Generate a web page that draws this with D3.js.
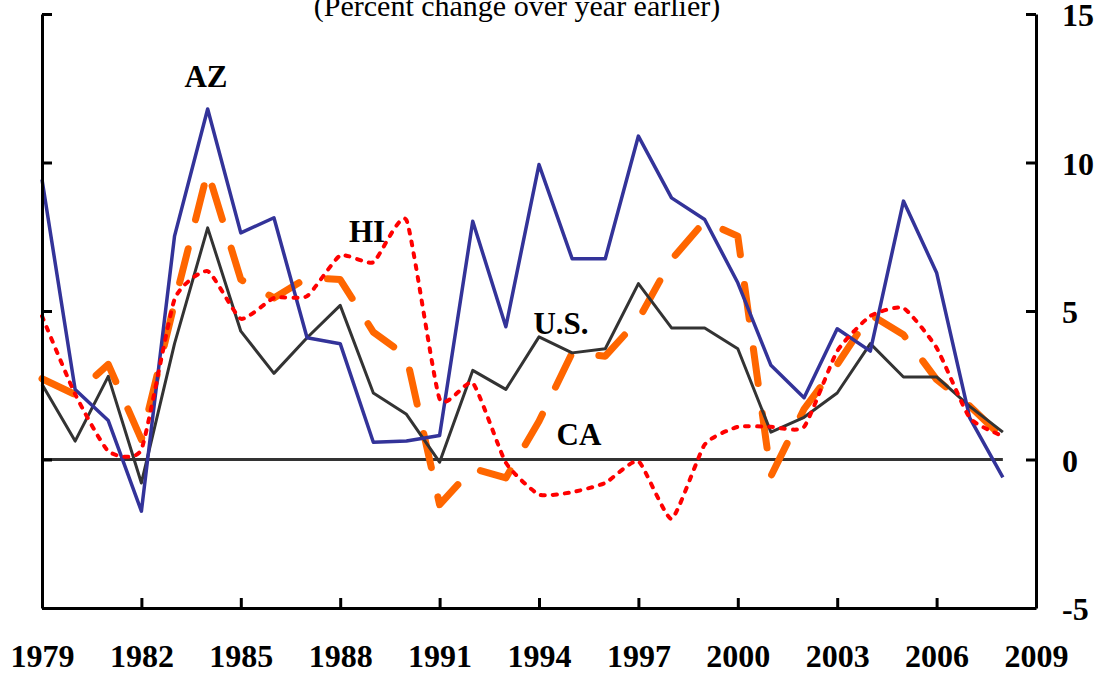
<!doctype html>
<html lang="en">
<head>
    <meta charset="utf-8">
    <title>Percent change over year earlier</title>
    <style>
        body {
            margin: 0;
            background-color: white;
        }

        svg text {
            font-family: 'Liberation Serif', 'Times New Roman', serif;
            fill: #000;
        }

        svg .tick text {
            font-size: 32px;
            font-weight: 700;
        }

        .series-label {
            font-size: 31px;
            font-weight: bold;
        }

        .title {
            font-size: 30px;
        }
    </style>
</head>
<body>
    <svg id="chart"></svg>
    <script src="https://d3js.org/d3.v7.min.js"></script>
    <script>
        var years = [1979, 1980, 1981, 1982, 1983, 1984, 1985, 1986, 1987, 1988,
            1989, 1990, 1991, 1992, 1993, 1994, 1995, 1996, 1997, 1998,
            1999, 2000, 2001, 2002, 2003, 2004, 2005, 2006, 2007, 2008];

        var azValues = [9.43, 2.36, 1.31, -1.74, 7.52, 11.8, 7.63, 8.14, 4.1, 3.9,
            0.58, 0.62, 0.81, 8.02, 4.47, 9.93, 6.76, 6.76, 10.89, 8.81,
            8.08, 5.95, 3.17, 2.08, 4.4, 3.65, 8.7, 6.29, 1.4, -0.6];

        var usValues = [2.53, 0.62, 2.8, -0.79, 3.9, 7.8, 4.32, 2.9, 4.1, 5.19,
            2.24, 1.52, -0.09, 3.0, 2.36, 4.13, 3.59, 3.73, 5.92, 4.43,
            4.43, 3.73, 0.92, 1.42, 2.24, 3.9, 2.78, 2.78, 1.79, 0.92];

        var caValues = [2.72, 2.19, 3.2, 0.67, 5.27, 9.7, 6.06, 5.44, 6.12, 6.06,
            4.29, 3.48, -1.52, -0.3, -0.62, 1.29, 3.59, 3.48, 4.71, 6.73,
            8.02, 7.52, -0.56, 1.7, 3.2, 4.88, 4.2, 2.69, 1.8, 0.73];

        var hiValues = [4.83, 2.2, 0.28, 0.34, 5.39, 6.34, 4.74, 5.44, 5.5, 6.87,
            6.64, 8.06, 2.04, 2.58, -0.11, -1.18, -1.1, -0.79, -0.06, -2.0,
            0.5, 1.1, 1.1, 1.1, 3.65, 4.83, 5.1, 3.76, 1.4, 0.79];

        var xTicks = [1979, 1982, 1985, 1988, 1991, 1994, 1997, 2000, 2003, 2006, 2009];
        var yTicks = [-5, 0, 5, 10, 15];

        var svg = d3.select("#chart")
            .attr("width", 1102)
            .attr("height", 673);

        var x = d3.scaleLinear().domain([1979, 2009]).range([42, 1036]);
        var y = d3.scaleLinear().domain([-5, 15]).range([608, 14]);

        // zero reference line runs over the years that have data
        svg.append("line")
            .attr("x1", x(years[0]))
            .attr("x2", x(years[years.length - 1]))
            .attr("y1", y(0))
            .attr("y2", y(0))
            .attr("stroke", "#333333")
            .attr("stroke-width", 3);

        function drawSeries(values, color, width, dash, curve) {
            var line = d3.line()
                .x(function (d, i) { return x(years[i]) })
                .y(function (d) { return y(d) })
                .curve(curve);

            svg.append("path")
                .datum(values)
                .attr("fill", "none")
                .attr("stroke", color)
                .attr("stroke-width", width)
                .attr("stroke-linejoin", "round")
                .attr("stroke-linecap", dash ? "round" : "butt")
                .attr("stroke-dasharray", dash)
                .attr("d", line);
        }

        drawSeries(caValues, "#FF6600", 7, "35,30", d3.curveLinear);
        drawSeries(usValues, "#333333", 3, null, d3.curveLinear);
        drawSeries(azValues, "#333399", 3.5, null, d3.curveLinear);
        drawSeries(hiValues, "#FF0000", 4, "4,8", d3.curveCardinal.tension(0.5));

        // axes, ticks pointing inward
        var left = svg.append("g")
            .attr("transform", "translate(" + x(1979) + ",0)")
            .call(d3.axisLeft(y).tickValues(yTicks).tickSize(-10).tickSizeOuter(0).tickFormat(""));

        var right = svg.append("g")
            .attr("transform", "translate(" + x(2009) + ",0)")
            .call(d3.axisRight(y).tickValues(yTicks).tickSize(-10).tickSizeOuter(0).tickPadding(26)
                .tickFormat(function (d) { return String(d) }));

        var bottom = svg.append("g")
            .attr("transform", "translate(0," + y(-5) + ")")
            .call(d3.axisBottom(x).tickValues(xTicks).tickSize(-10).tickSizeOuter(0).tickPadding(36)
                .tickFormat(function (d) { return String(d) }));

        [left, right, bottom].forEach(function (g) {
            g.attr("font-size", null).attr("font-family", null);
            g.select(".domain").attr("stroke", "#000").attr("stroke-width", 3);
            g.selectAll(".tick line").attr("stroke", "#000").attr("stroke-width", 3);
            g.selectAll(".tick text")
                .style("font-family", "'Liberation Serif', 'Times New Roman', serif")
                .style("font-size", "32px")
                .style("font-weight", "bold")
                .attr("fill", "#000");
        });

        right.selectAll(".tick text").attr("dy", "0.36em");

        svg.append("text")
            .attr("class", "title")
            .attr("x", 517)
            .attr("y", 16)
            .attr("text-anchor", "middle")
            .text("(Percent change over year earlier)");

        var labels = [
            { text: "AZ", x: 206, y: 87 },
            { text: "HI", x: 367, y: 242 },
            { text: "U.S.", x: 561, y: 334 },
            { text: "CA", x: 579, y: 445 }
        ];

        svg.selectAll(".series-label")
            .data(labels)
            .enter()
            .append("text")
            .attr("class", "series-label")
            .attr("x", function (d) { return d.x })
            .attr("y", function (d) { return d.y })
            .attr("text-anchor", "middle")
            .text(function (d) { return d.text });
    </script>
</body>
</html>
